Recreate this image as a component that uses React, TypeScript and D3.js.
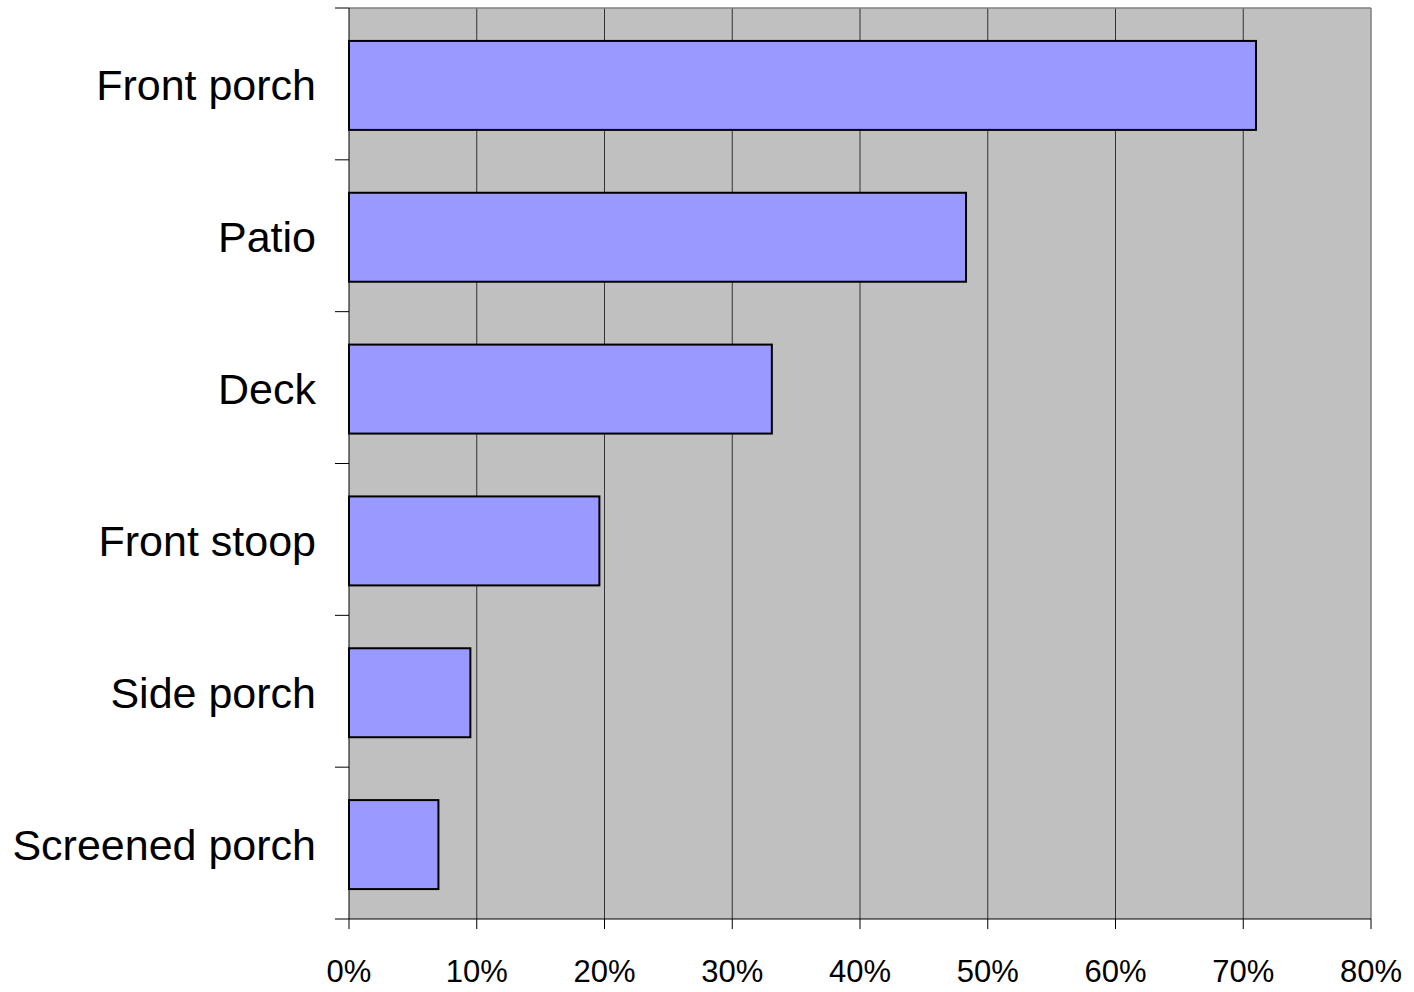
import React from "react";
import * as d3 from "d3";

const categories = ["Front porch", "Patio", "Deck", "Front stoop", "Side porch", "Screened porch"];
const values = [0.71, 0.483, 0.331, 0.196, 0.095, 0.07];
const xTicks = [0, 0.1, 0.2, 0.3, 0.4, 0.5, 0.6, 0.7, 0.8];

const W = 1414;
const H = 992;
const left = 349;
const right = 1371;
const top = 8;
const bottom = 919;

export default function App() {
  const x = d3.scaleLinear().domain([0, 0.8]).range([left, right]);
  const y = d3
    .scaleBand<string>()
    .domain(categories)
    .range([top, bottom])
    .paddingInner(0.414)
    .paddingOuter(0.207);
  const step = y.step();
  const boundaries = d3.range(categories.length + 1).map((i) => top + i * step);
  const fmt = d3.format(".0%");
  const barShift = 1.5;

  return (
    <svg
      width={W}
      height={H}
      style={{ position: "absolute", left: 0, top: 0, background: "#fff" }}
      fontFamily="'Liberation Sans', Arial, sans-serif"
    >
      <rect x={left} y={top} width={right - left} height={bottom - top} fill="#C0C0C0" />
      {xTicks.slice(1, -1).map((t) => (
        <line key={"g" + t} x1={x(t)} x2={x(t)} y1={top} y2={bottom} stroke="#333" strokeWidth={1} />
      ))}
      {/* plot frame: top and right in gray */}
      <line x1={left} x2={right} y1={top} y2={top} stroke="#808080" strokeWidth={1.5} />
      <line x1={right} x2={right} y1={top} y2={bottom} stroke="#808080" strokeWidth={1.5} />
      {categories.map((c, i) => (
        <rect
          key={c}
          x={x(0)}
          y={y(c)! + barShift}
          width={x(values[i]) - x(0)}
          height={y.bandwidth()}
          fill="#9999FF"
          stroke="#000"
          strokeWidth={2}
        />
      ))}
      {/* axes */}
      <line x1={left} x2={left} y1={top} y2={bottom} stroke="#000" strokeWidth={1} />
      <line x1={left} x2={right} y1={bottom} y2={bottom} stroke="#000" strokeWidth={1} />
      {boundaries.map((b, i) => (
        <line key={"yt" + i} x1={335} x2={left} y1={b} y2={b} stroke="#000" strokeWidth={1} />
      ))}
      {xTicks.map((t) => (
        <line key={"xt" + t} x1={x(t)} x2={x(t)} y1={bottom} y2={bottom + 10} stroke="#000" strokeWidth={1} />
      ))}
      {xTicks.map((t) => (
        <text key={"xl" + t} x={x(t)} y={982} textAnchor="middle" fontSize={31} fill="#000">
          {fmt(t)}
        </text>
      ))}
      {categories.map((c) => (
        <text
          key={"yl" + c}
          x={316}
          y={y(c)! + y.bandwidth() / 2 + barShift}
          dy="0.35em"
          textAnchor="end"
          fontSize={43}
          fill="#000"
        >
          {c}
        </text>
      ))}
    </svg>
  );
}
